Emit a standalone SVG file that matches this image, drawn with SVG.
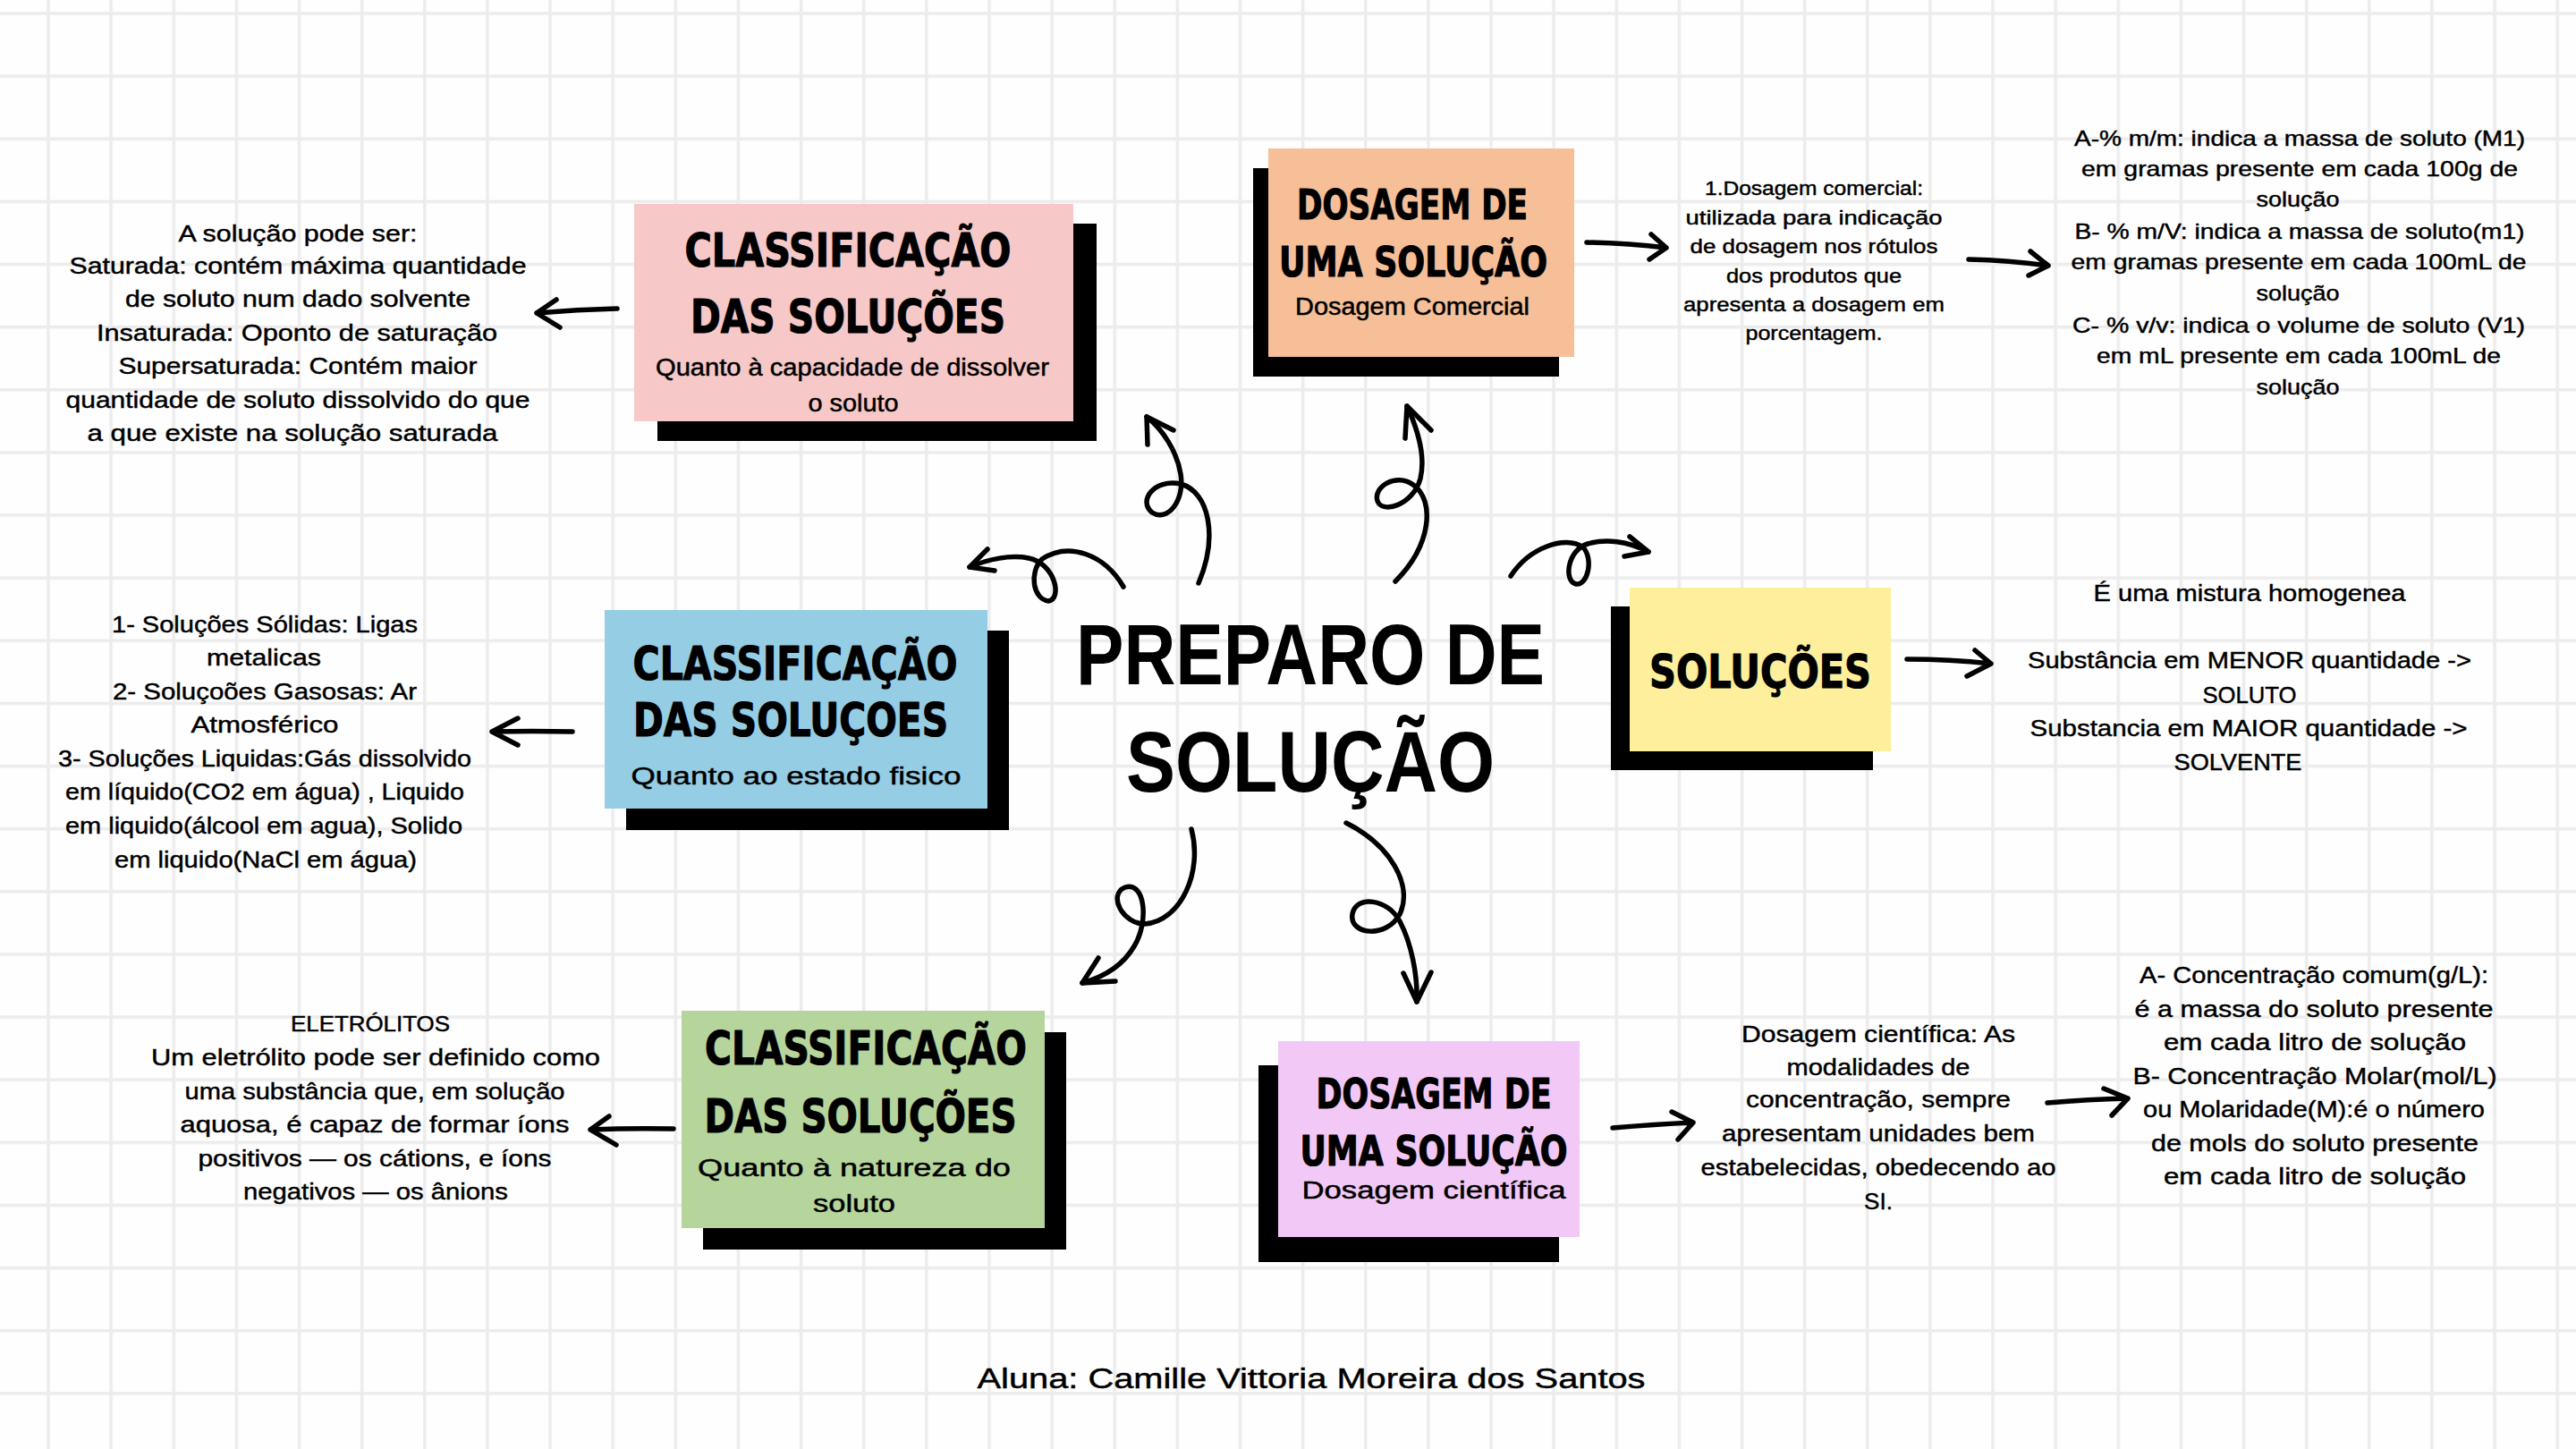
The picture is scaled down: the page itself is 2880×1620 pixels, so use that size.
<svg xmlns="http://www.w3.org/2000/svg" width="2880" height="1620" viewBox="0 0 2880 1620">
<style>
.ttl{font-family:"DejaVu Sans","Liberation Sans",sans-serif;font-weight:bold;fill:#000;stroke:#000;stroke-width:1.2;stroke-linejoin:round;text-anchor:middle}
.t46{font-size:51px}
.t42{font-size:46px}
.sub{font-family:"Liberation Sans",Arial,sans-serif;font-size:27px;fill:#000;stroke:#000;stroke-width:0.5;text-anchor:middle}
.body{font-family:"Liberation Sans",Arial,sans-serif;font-size:26px;fill:#000;stroke:#000;stroke-width:0.45;text-anchor:middle}
.b22{font-size:22px}
.b24{font-size:24px}
.main{font-family:"Liberation Sans",Arial,sans-serif;font-weight:bold;font-size:96px;fill:#000;text-anchor:middle}
.shadow{fill:#000}
.arr{fill:none;stroke:#000;stroke-width:5.5;stroke-linecap:round;stroke-linejoin:round}
</style>
<defs>
<pattern id="grid" x="52.25" y="13.25" width="70.13" height="70.13" patternUnits="userSpaceOnUse">
<rect x="0" y="0" width="70.13" height="70.13" fill="#fefefe"/>
<rect x="0" y="0" width="3.5" height="70.13" fill="#ececec"/>
<rect x="0" y="0" width="70.13" height="3.5" fill="#ececec"/>
</pattern>
</defs>
<rect x="0" y="0" width="2880" height="1620" fill="url(#grid)"/>

<g id="center-title">
<text class="main" x="1465" y="765" textLength="524" lengthAdjust="spacingAndGlyphs">PREPARO DE</text>
<text class="main" x="1465" y="885" textLength="412" lengthAdjust="spacingAndGlyphs">SOLUÇÃO</text>
</g>

<g id="node-class-capacidade">
<rect class="shadow" x="735" y="250" width="491" height="243"/>
<rect x="709" y="228" width="491" height="243" fill="#f6c8c8"/>
<text class="ttl t46" x="948" y="298" textLength="365" lengthAdjust="spacingAndGlyphs">CLASSIFICAÇÃO</text>
<text class="ttl t46" x="948" y="372" textLength="352" lengthAdjust="spacingAndGlyphs">DAS SOLUÇÕES</text>
<text class="sub" x="953" y="420" textLength="440" lengthAdjust="spacingAndGlyphs">Quanto à capacidade de dissolver</text>
<text class="sub" x="954" y="460" textLength="101" lengthAdjust="spacingAndGlyphs">o soluto</text>
</g>

<g id="text-capacidade">
<text class="body" x="333" y="270" textLength="267" lengthAdjust="spacingAndGlyphs">A solução pode ser:</text>
<text class="body" x="333" y="306" textLength="511" lengthAdjust="spacingAndGlyphs">Saturada: contém máxima quantidade</text>
<text class="body" x="333" y="343" textLength="386" lengthAdjust="spacingAndGlyphs">de soluto num dado solvente</text>
<text class="body" x="332" y="381" textLength="448" lengthAdjust="spacingAndGlyphs">Insaturada: Oponto de saturação</text>
<text class="body" x="333" y="418" textLength="401" lengthAdjust="spacingAndGlyphs">Supersaturada: Contém maior</text>
<text class="body" x="333" y="456" textLength="519" lengthAdjust="spacingAndGlyphs">quantidade de soluto dissolvido do que</text>
<text class="body" x="327" y="493" textLength="459" lengthAdjust="spacingAndGlyphs">a que existe na solução saturada</text>
</g>

<g id="node-dosagem-comercial">
<rect class="shadow" x="1401" y="188" width="342" height="233"/>
<rect x="1418" y="166" width="342" height="233" fill="#f6bf97"/>
<text class="ttl t42" x="1579" y="245" textLength="258" lengthAdjust="spacingAndGlyphs">DOSAGEM DE</text>
<text class="ttl t42" x="1580" y="309" textLength="300" lengthAdjust="spacingAndGlyphs">UMA SOLUÇÃO</text>
<text class="sub" x="1579" y="352" textLength="262" lengthAdjust="spacingAndGlyphs">Dosagem Comercial</text>
</g>

<g id="text-comercial">
<text class="body b22" x="2028" y="218" textLength="244" lengthAdjust="spacingAndGlyphs">1.Dosagem comercial:</text>
<text class="body b22" x="2028" y="251" textLength="287" lengthAdjust="spacingAndGlyphs">utilizada para indicação</text>
<text class="body b22" x="2028" y="283" textLength="277" lengthAdjust="spacingAndGlyphs">de dosagem nos rótulos</text>
<text class="body b22" x="2028" y="316" textLength="196" lengthAdjust="spacingAndGlyphs">dos produtos que</text>
<text class="body b22" x="2028" y="348" textLength="292" lengthAdjust="spacingAndGlyphs">apresenta a dosagem em</text>
<text class="body b22" x="2028" y="380" textLength="153" lengthAdjust="spacingAndGlyphs">porcentagem.</text>
</g>

<g id="text-percentagens">
<text class="body b24" x="2571" y="163" textLength="504" lengthAdjust="spacingAndGlyphs">A-% m/m: indica a massa de soluto (M1)</text>
<text class="body b24" x="2571" y="197" textLength="488" lengthAdjust="spacingAndGlyphs">em gramas presente em cada 100g de</text>
<text class="body b24" x="2569" y="231" textLength="93" lengthAdjust="spacingAndGlyphs">solução</text>
<text class="body b24" x="2571" y="267" textLength="503" lengthAdjust="spacingAndGlyphs">B- % m/V: indica a massa de soluto(m1)</text>
<text class="body b24" x="2570" y="301" textLength="509" lengthAdjust="spacingAndGlyphs">em gramas presente em cada 100mL de</text>
<text class="body b24" x="2569" y="336" textLength="93" lengthAdjust="spacingAndGlyphs">solução</text>
<text class="body b24" x="2570" y="372" textLength="506" lengthAdjust="spacingAndGlyphs">C- % v/v: indica o volume de soluto (V1)</text>
<text class="body b24" x="2570" y="406" textLength="452" lengthAdjust="spacingAndGlyphs">em mL presente em cada 100mL de</text>
<text class="body b24" x="2569" y="441" textLength="93" lengthAdjust="spacingAndGlyphs">solução</text>
</g>

<g id="node-class-estado">
<rect class="shadow" x="700" y="705" width="428" height="223"/>
<rect x="676" y="682" width="428" height="222" fill="#95cde4"/>
<text class="ttl t46" x="889" y="760" textLength="363" lengthAdjust="spacingAndGlyphs">CLASSIFICAÇÃO</text>
<text class="ttl t46" x="884" y="823" textLength="352" lengthAdjust="spacingAndGlyphs">DAS SOLUÇOES</text>
<text class="sub" x="890" y="877" textLength="369" lengthAdjust="spacingAndGlyphs">Quanto ao estado fisico</text>
</g>

<g id="text-estado">
<text class="body" x="296" y="707" textLength="342" lengthAdjust="spacingAndGlyphs">1- Soluções Sólidas: Ligas</text>
<text class="body" x="295" y="744" textLength="128" lengthAdjust="spacingAndGlyphs">metalicas</text>
<text class="body" x="296" y="782" textLength="340" lengthAdjust="spacingAndGlyphs">2- Soluçoões Gasosas: Ar</text>
<text class="body" x="296" y="819" textLength="165" lengthAdjust="spacingAndGlyphs">Atmosférico</text>
<text class="body" x="296" y="857" textLength="462" lengthAdjust="spacingAndGlyphs">3- Soluções Liquidas:Gás dissolvido</text>
<text class="body" x="296" y="894" textLength="446" lengthAdjust="spacingAndGlyphs">em líquido(CO2 em água) , Liquido</text>
<text class="body" x="295" y="932" textLength="444" lengthAdjust="spacingAndGlyphs">em liquido(álcool em agua), Solido</text>
<text class="body" x="297" y="970" textLength="338" lengthAdjust="spacingAndGlyphs">em liquido(NaCl em água)</text>
</g>

<g id="node-solucoes">
<rect class="shadow" x="1801" y="678" width="293" height="183"/>
<rect x="1822" y="657" width="292" height="183" fill="#fdef9b"/>
<text class="ttl t46" x="1968" y="769" textLength="248" lengthAdjust="spacingAndGlyphs">SOLUÇÕES</text>
</g>

<g id="text-solucoes">
<text class="body" x="2515" y="672" textLength="349" lengthAdjust="spacingAndGlyphs">É uma mistura homogenea</text>
<text class="body" x="2515" y="747" textLength="496" lengthAdjust="spacingAndGlyphs">Substância em MENOR quantidade -&gt;</text>
<text class="body" x="2515" y="786" textLength="105" lengthAdjust="spacingAndGlyphs">SOLUTO</text>
<text class="body" x="2514" y="823" textLength="489" lengthAdjust="spacingAndGlyphs">Substancia em MAIOR quantidade -&gt;</text>
<text class="body" x="2502" y="861" textLength="143" lengthAdjust="spacingAndGlyphs">SOLVENTE</text>
</g>

<g id="node-class-natureza">
<rect class="shadow" x="786" y="1154" width="406" height="243"/>
<rect x="762" y="1130" width="406" height="243" fill="#b6d59d"/>
<text class="ttl t46" x="968" y="1190" textLength="360" lengthAdjust="spacingAndGlyphs">CLASSIFICAÇÃO</text>
<text class="ttl t46" x="962" y="1266" textLength="349" lengthAdjust="spacingAndGlyphs">DAS SOLUÇÕES</text>
<text class="sub" x="955" y="1315" textLength="350" lengthAdjust="spacingAndGlyphs">Quanto à natureza do</text>
<text class="sub" x="955" y="1355" textLength="92" lengthAdjust="spacingAndGlyphs">soluto</text>
</g>

<g id="text-eletrolitos">
<text class="body b24" x="414" y="1153" textLength="178" lengthAdjust="spacingAndGlyphs">ELETRÓLITOS</text>
<text class="body" x="420" y="1191" textLength="502" lengthAdjust="spacingAndGlyphs">Um eletrólito pode ser definido como</text>
<text class="body" x="419" y="1229" textLength="425" lengthAdjust="spacingAndGlyphs">uma substância que, em solução</text>
<text class="body" x="419" y="1266" textLength="435" lengthAdjust="spacingAndGlyphs">aquosa, é capaz de formar íons</text>
<text class="body" x="419" y="1304" textLength="395" lengthAdjust="spacingAndGlyphs">positivos — os cátions, e íons</text>
<text class="body" x="420" y="1341" textLength="296" lengthAdjust="spacingAndGlyphs">negativos — os ânions</text>
</g>

<g id="node-dosagem-cientifica">
<rect class="shadow" x="1407" y="1191" width="336" height="220"/>
<rect x="1429" y="1164" width="337" height="219" fill="#f2c9f6"/>
<text class="ttl t42" x="1603" y="1239" textLength="263" lengthAdjust="spacingAndGlyphs">DOSAGEM DE</text>
<text class="ttl t42" x="1603" y="1303" textLength="299" lengthAdjust="spacingAndGlyphs">UMA SOLUÇÃO</text>
<text class="sub" x="1603" y="1340" textLength="295" lengthAdjust="spacingAndGlyphs">Dosagem científica</text>
</g>

<g id="text-cientifica">
<text class="body" x="2100" y="1165" textLength="306" lengthAdjust="spacingAndGlyphs">Dosagem científica: As</text>
<text class="body" x="2100" y="1202" textLength="205" lengthAdjust="spacingAndGlyphs">modalidades de</text>
<text class="body" x="2100" y="1238" textLength="296" lengthAdjust="spacingAndGlyphs">concentração, sempre</text>
<text class="body" x="2100" y="1276" textLength="350" lengthAdjust="spacingAndGlyphs">apresentam unidades bem</text>
<text class="body" x="2100" y="1314" textLength="397" lengthAdjust="spacingAndGlyphs">estabelecidas, obedecendo ao</text>
<text class="body" x="2100" y="1352">SI.</text>
</g>

<g id="text-concentracao">
<text class="body" x="2587" y="1099" textLength="390" lengthAdjust="spacingAndGlyphs">A- Concentração comum(g/L):</text>
<text class="body" x="2587" y="1137" textLength="401" lengthAdjust="spacingAndGlyphs">é a massa do soluto presente</text>
<text class="body" x="2588" y="1174" textLength="338" lengthAdjust="spacingAndGlyphs">em cada litro de solução</text>
<text class="body" x="2588" y="1212" textLength="407" lengthAdjust="spacingAndGlyphs">B- Concentração Molar(mol/L)</text>
<text class="body" x="2587" y="1249" textLength="382" lengthAdjust="spacingAndGlyphs">ou Molaridade(M):é o número</text>
<text class="body" x="2588" y="1287" textLength="366" lengthAdjust="spacingAndGlyphs">de mols do soluto presente</text>
<text class="body" x="2588" y="1324" textLength="338" lengthAdjust="spacingAndGlyphs">em cada litro de solução</text>
</g>

<g id="author">
<text class="body" style="font-size:31px" x="1466" y="1552" textLength="747" lengthAdjust="spacingAndGlyphs">Aluna: Camille Vittoria Moreira dos Santos</text>
</g>

<g id="connectors">
<path class="arr" d="M1340,652 C1362,600 1352,550 1320,541 C1290,535 1272,560 1288,573 C1305,584 1325,560 1320,530 C1316,505 1300,480 1282,466"/>
<path class="arr" d="M1283,497 L1282,466 L1312,481"/>
<path class="arr" d="M1560,650 C1600,610 1605,560 1580,542 C1560,528 1535,545 1540,560 C1545,575 1580,565 1588,535 C1594,510 1585,480 1573,454"/>
<path class="arr" d="M1571,490 L1573,454 L1600,481"/>
<path class="arr" d="M1256,656 C1235,620 1195,605 1165,625 C1150,640 1155,670 1172,672 C1188,670 1180,630 1150,624 C1130,620 1105,625 1084,634"/>
<path class="arr" d="M1104,614 L1084,634 L1112,638"/>
<path class="arr" d="M1689,644 C1710,612 1750,598 1770,612 C1782,625 1775,655 1762,653 C1748,650 1752,615 1775,608 C1795,602 1820,605 1843,617"/>
<path class="arr" d="M1822,600 L1843,617 L1816,622"/>
<path class="arr" d="M1332,927 C1345,975 1320,1030 1280,1033 C1255,1033 1238,1000 1258,992 C1280,985 1285,1030 1268,1058 C1255,1080 1235,1092 1210,1099"/>
<path class="arr" d="M1228,1071 L1210,1099 L1247,1097"/>
<path class="arr" d="M1505,920 C1555,945 1580,990 1565,1022 C1550,1050 1508,1045 1512,1022 C1516,1000 1552,1005 1565,1030 C1578,1055 1585,1090 1584,1120"/>
<path class="arr" d="M1569,1088 L1584,1120 L1600,1087"/>
<path class="arr" d="M690,345 Q645,346 600,350 M622,335 L600,350 L626,366"/>
<path class="arr" d="M1774,271 Q1820,272 1863,277 M1846,262 L1863,277 L1844,290"/>
<path class="arr" d="M2201,290 Q2248,291 2290,297 M2270,281 L2290,297 L2268,308"/>
<path class="arr" d="M640,818 Q595,817 550,818 M579,803 L550,818 L579,833"/>
<path class="arr" d="M2132,737 Q2180,737 2226,742 M2208,727 L2226,742 L2199,756"/>
<path class="arr" d="M753,1262 Q705,1261 660,1263 M681,1248 L660,1263 L689,1280"/>
<path class="arr" d="M1803,1261 Q1850,1257 1893,1255 M1869,1243 L1893,1255 L1876,1274"/>
<path class="arr" d="M2289,1233 Q2335,1229 2379,1228 M2352,1217 L2379,1228 L2361,1247"/>
</g>
</svg>
